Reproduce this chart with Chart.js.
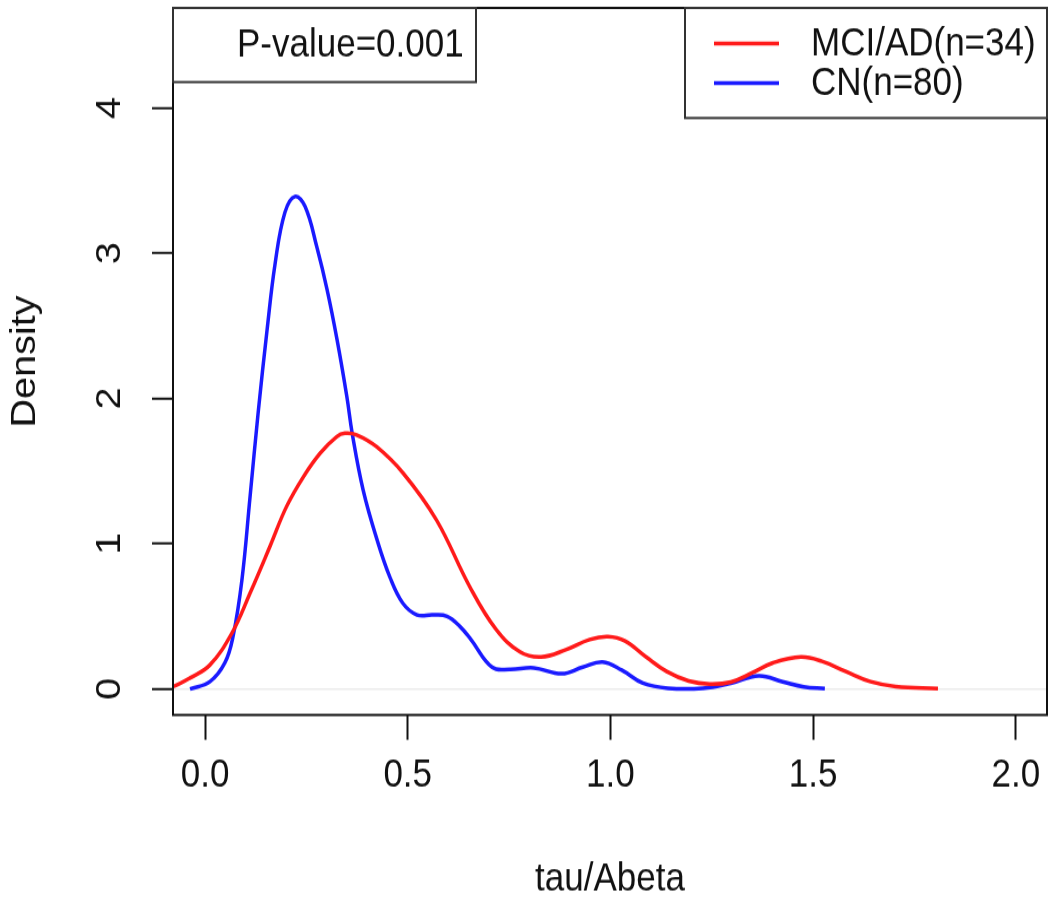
<!DOCTYPE html>
<html>
<head>
<meta charset="utf-8">
<script src="https://cdn.jsdelivr.net/npm/chart.js@4.4.1/dist/chart.umd.min.js"></script>
<style>
  html, body { margin: 0; padding: 0; background: #fff; }
</style>
</head>
<body>
<!-- drawn at 799px tall, shown at 903px: the R device output is stretched vertically -->
<canvas id="densityChart" width="1049" height="799" style="display:block;width:1049px;height:903px"></canvas>
<script>
// kernel density estimates of tau/Abeta for each group
const mciX = [-0.10, -0.081, -0.037, 0.012, 0.066, 0.111, 0.160, 0.201, 0.243, 0.284, 0.325, 0.345, 0.374, 0.423,
  0.489, 0.571, 0.653, 0.718, 0.777, 0.829, 0.890, 0.949, 0.994, 1.036, 1.088, 1.139, 1.193, 1.245, 1.297,
  1.349, 1.401, 1.470, 1.522, 1.581, 1.642, 1.704, 1.808];
const mciDensity = [0.008, 0.014, 0.076, 0.165, 0.383, 0.659, 0.98, 1.255, 1.462, 1.623, 1.737, 1.76, 1.749, 1.668,
  1.485, 1.163, 0.704, 0.41, 0.255, 0.22, 0.27, 0.34, 0.36, 0.33, 0.22, 0.12, 0.055, 0.034, 0.048,
  0.11, 0.18, 0.22, 0.19, 0.12, 0.05, 0.017, 0.003];

const cnX = [-0.037, 0.012, 0.049, 0.069, 0.091, 0.111, 0.131, 0.153, 0.173, 0.197, 0.222, 0.247, 0.276, 0.301,
  0.326, 0.350, 0.363, 0.390, 0.424, 0.456, 0.488, 0.523, 0.562, 0.597, 0.629, 0.656, 0.708, 0.752, 0.811,
  0.880, 0.932, 0.981, 1.028, 1.080, 1.142, 1.228, 1.297, 1.366, 1.425, 1.477, 1.529];
const cnDensity = [0.0, 0.05, 0.18, 0.36, 0.75, 1.32, 1.90, 2.47, 2.93, 3.28, 3.39, 3.32, 3.04, 2.75,
  2.40, 2.01, 1.76, 1.37, 1.03, 0.77, 0.59, 0.51, 0.51, 0.50, 0.43, 0.34, 0.15, 0.135, 0.145,
  0.105, 0.15, 0.185, 0.13, 0.04, 0.005, 0.005, 0.04, 0.09, 0.05, 0.015, 0.003];

const seriesLabels = ['MCI/AD(n=34)', 'CN(n=80)'];
const seriesColors = ['#ff1a1a', '#1a1aff'];
const pValueText = 'P-value=0.001';

const xTicks = [0, 0.5, 1.0, 1.5, 2.0];
const yTicks = [0, 1, 2, 3, 4];

const FONT = { family: '"Liberation Sans", Arial, Helvetica, sans-serif', size: 35 };

function toPoints(xs, ys) {
  return xs.map((x, i) => ({ x: x, y: ys[i] }));
}

// box, P-value note and series key, drawn like R's plot box and legend()
const boxAndLegends = {
  id: 'boxAndLegends',
  afterDatasetsDraw(chart) {
    const { ctx, chartArea: a } = chart;
    ctx.save();
    ctx.lineWidth = 2;
    ctx.strokeStyle = '#111';
    ctx.strokeRect(a.left, a.top, a.right - a.left, a.bottom - a.top);

    ctx.font = FONT.size + 'px ' + FONT.family;
    ctx.textBaseline = 'middle';
    ctx.textAlign = 'left';

    // top-left note
    ctx.fillStyle = '#fff';
    ctx.fillRect(a.left, a.top, 303, 65.6);
    ctx.strokeStyle = '#333';
    ctx.strokeRect(a.left, a.top, 303, 65.6);
    ctx.fillStyle = '#111';
    ctx.fillText(pValueText, a.left + 64, a.top + 33.5);

    // top-right key
    const bx = 685, bw = a.right - bx, bh = 97.4;
    ctx.fillStyle = '#fff';
    ctx.fillRect(bx, a.top, bw, bh);
    ctx.strokeStyle = '#333';
    ctx.strokeRect(bx, a.top, bw, bh);
    const rows = [a.top + 32.5, a.top + 67.5];
    seriesLabels.forEach((label, i) => {
      ctx.strokeStyle = seriesColors[i];
      ctx.lineWidth = 3.5;
      ctx.beginPath();
      ctx.moveTo(714, rows[i] - 1);
      ctx.lineTo(779, rows[i] - 1);
      ctx.stroke();
      ctx.fillStyle = '#111';
      ctx.fillText(label, 811, rows[i]);
    });
    ctx.restore();
  }
};

const ctx = document.getElementById('densityChart').getContext('2d');
const densityChart = new Chart(ctx, {
  type: 'line',
  data: {
    datasets: [
      {
        label: seriesLabels[0],
        data: toPoints(mciX, mciDensity),
        borderColor: seriesColors[0],
        borderWidth: 3.5,
        pointRadius: 0,
        tension: 0.4,
        fill: false,
        clip: 0
      },
      {
        label: seriesLabels[1],
        data: toPoints(cnX, cnDensity),
        borderColor: seriesColors[1],
        borderWidth: 3.5,
        pointRadius: 0,
        tension: 0.4,
        fill: false,
        clip: 0
      }
    ]
  },
  options: {
    responsive: false,
    devicePixelRatio: 1,
    animation: false,
    layout: { padding: { left: 0, right: 2, top: 7, bottom: 0 } },
    plugins: {
      legend: { display: false },
      tooltip: { enabled: false }
    },
    scales: {
      x: {
        type: 'linear',
        min: -0.079,
        max: 2.077,
        afterBuildTicks: scale => { scale.ticks = xTicks.map(v => ({ value: v })); },
        afterFit: scale => {
          scale.height = 166.4;
          scale.paddingLeft = 0;
          scale.paddingRight = 0;
        },
        ticks: {
          color: '#111',
          font: FONT,
          padding: 11,
          maxRotation: 0,
          autoSkip: false,
          callback: v => v.toFixed(1)
        },
        grid: {
          drawOnChartArea: false,
          drawTicks: true,
          tickLength: 22,
          tickColor: '#111',
          tickWidth: 2
        },
        border: { display: false },
        title: {
          display: true,
          text: 'tau/Abeta',
          color: '#111',
          font: FONT,
          padding: { top: 0, bottom: 0 }
        }
      },
      y: {
        type: 'linear',
        min: -0.179,
        max: 4.688,
        afterBuildTicks: scale => { scale.ticks = yTicks.map(v => ({ value: v })); },
        afterFit: scale => {
          scale.width = 173;
          scale.paddingTop = 0;
          scale.paddingBottom = 0;
        },
        ticks: {
          color: '#111',
          font: FONT,
          padding: 32,
          minRotation: 90,
          maxRotation: 90,
          crossAlign: 'center',
          autoSkip: false,
          callback: v => String(v)
        },
        grid: {
          drawOnChartArea: true,
          drawTicks: true,
          tickLength: 21,
          tickColor: '#111',
          tickWidth: 2,
          lineWidth: 1.5,
          color: c => (c.tick && c.tick.value === 0 ? '#ebebeb' : 'rgba(0,0,0,0)')
        },
        border: { display: false },
        title: {
          display: true,
          text: 'Density',
          color: '#111',
          font: FONT,
          padding: { top: 4, bottom: 0 }
        }
      }
    }
  },
  plugins: [boxAndLegends]
});
</script>
</body>
</html>
